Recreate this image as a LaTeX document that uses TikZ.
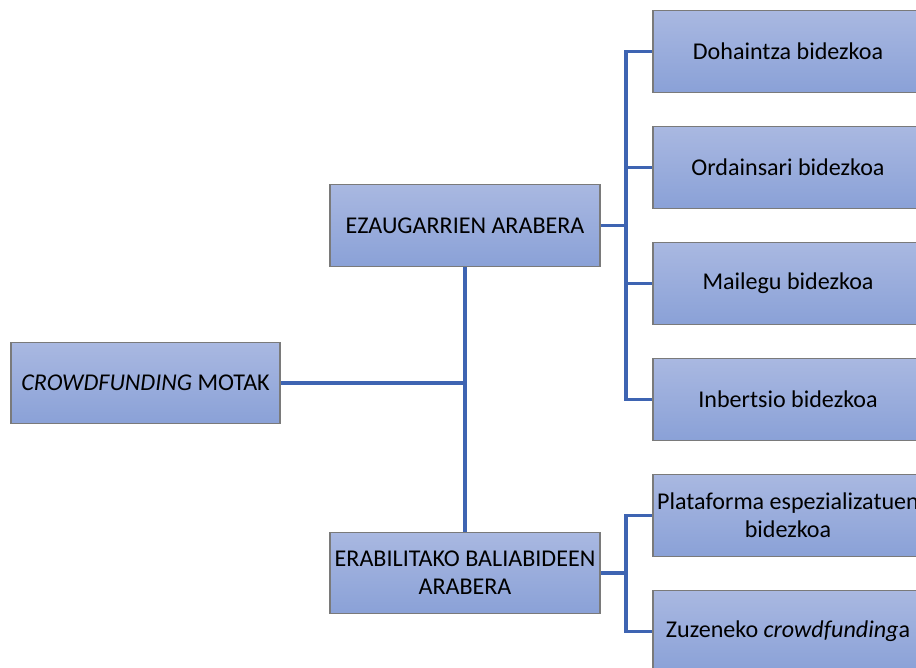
\documentclass[tikz,border=0pt]{standalone}
\usepackage{fontspec}
\setmainfont{Carlito}
\usepackage{tikz}
\pgfdeclarelayer{nodelayer}
\pgfdeclarelayer{edgelayer}
\pgfsetlayers{edgelayer,nodelayer,main}
\definecolor{boxtop}{HTML}{A9B8E1}
\definecolor{boxbottom}{HTML}{8AA1D7}
\definecolor{boxline}{HTML}{7A7A7A}
\definecolor{linkblue}{HTML}{3E64B2}
\tikzset{
	box/.style={draw=boxline,line width=0.6pt,top color=boxtop,bottom color=boxbottom,
		minimum width=5.4cm,minimum height=1.63cm,inner xsep=0pt,align=center,
		font=\fontsize{13.7}{16}\selectfont},
	link/.style={draw=linkblue,line width=1.9pt}
}

\begin{document}
\begin{tikzpicture}
	\useasboundingbox (0,0) rectangle (18.32,-13.36);
	\clip (0,0) rectangle (18.32,-13.36);
	\begin{pgfonlayer}{nodelayer}
		\node [box,minimum width=5.38cm] (0) at (2.91,-7.66) {\textit{CROWDFUNDING} MOTAK};
		\node [box] (1) at (9.30,-4.51) {EZAUGARRIEN ARABERA};
		\node [box] (2) at (9.30,-11.46) {ERABILITAKO BALIABIDEEN\\ARABERA};
		\node [box] (3) at (15.76,-1.03) {Dohaintza bidezkoa};
		\node [box] (4) at (15.76,-3.35) {Ordainsari bidezkoa};
		\node [box] (5) at (15.76,-5.67) {Mailegu bidezkoa};
		\node [box] (6) at (15.76,-7.99) {Inbertsio bidezkoa};
		\node [box] (7) at (15.76,-10.31) {Plataforma espezializatuen\\bidezkoa};
		\node [box] (8) at (15.76,-12.63) {Zuzeneko \textit{crowdfunding}a};
		\coordinate (9) at (9.30,-7.66);
		\coordinate (10) at (12.52,-4.51);
		\coordinate (11) at (12.52,-11.46);
	\end{pgfonlayer}
	\begin{pgfonlayer}{edgelayer}
		\draw [link] (0.east) to (9);
		\draw [link] (1.south) to (2.north);
		\draw [link] (1.east) to (10);
		\draw [link] (10) |- (3.west);
		\draw [link] (10) |- (4.west);
		\draw [link] (10) |- (5.west);
		\draw [link] (10) |- (6.west);
		\draw [link] (2.east) to (11);
		\draw [link] (11) |- (7.west);
		\draw [link] (11) |- (8.west);
	\end{pgfonlayer}
\end{tikzpicture}
\end{document}
